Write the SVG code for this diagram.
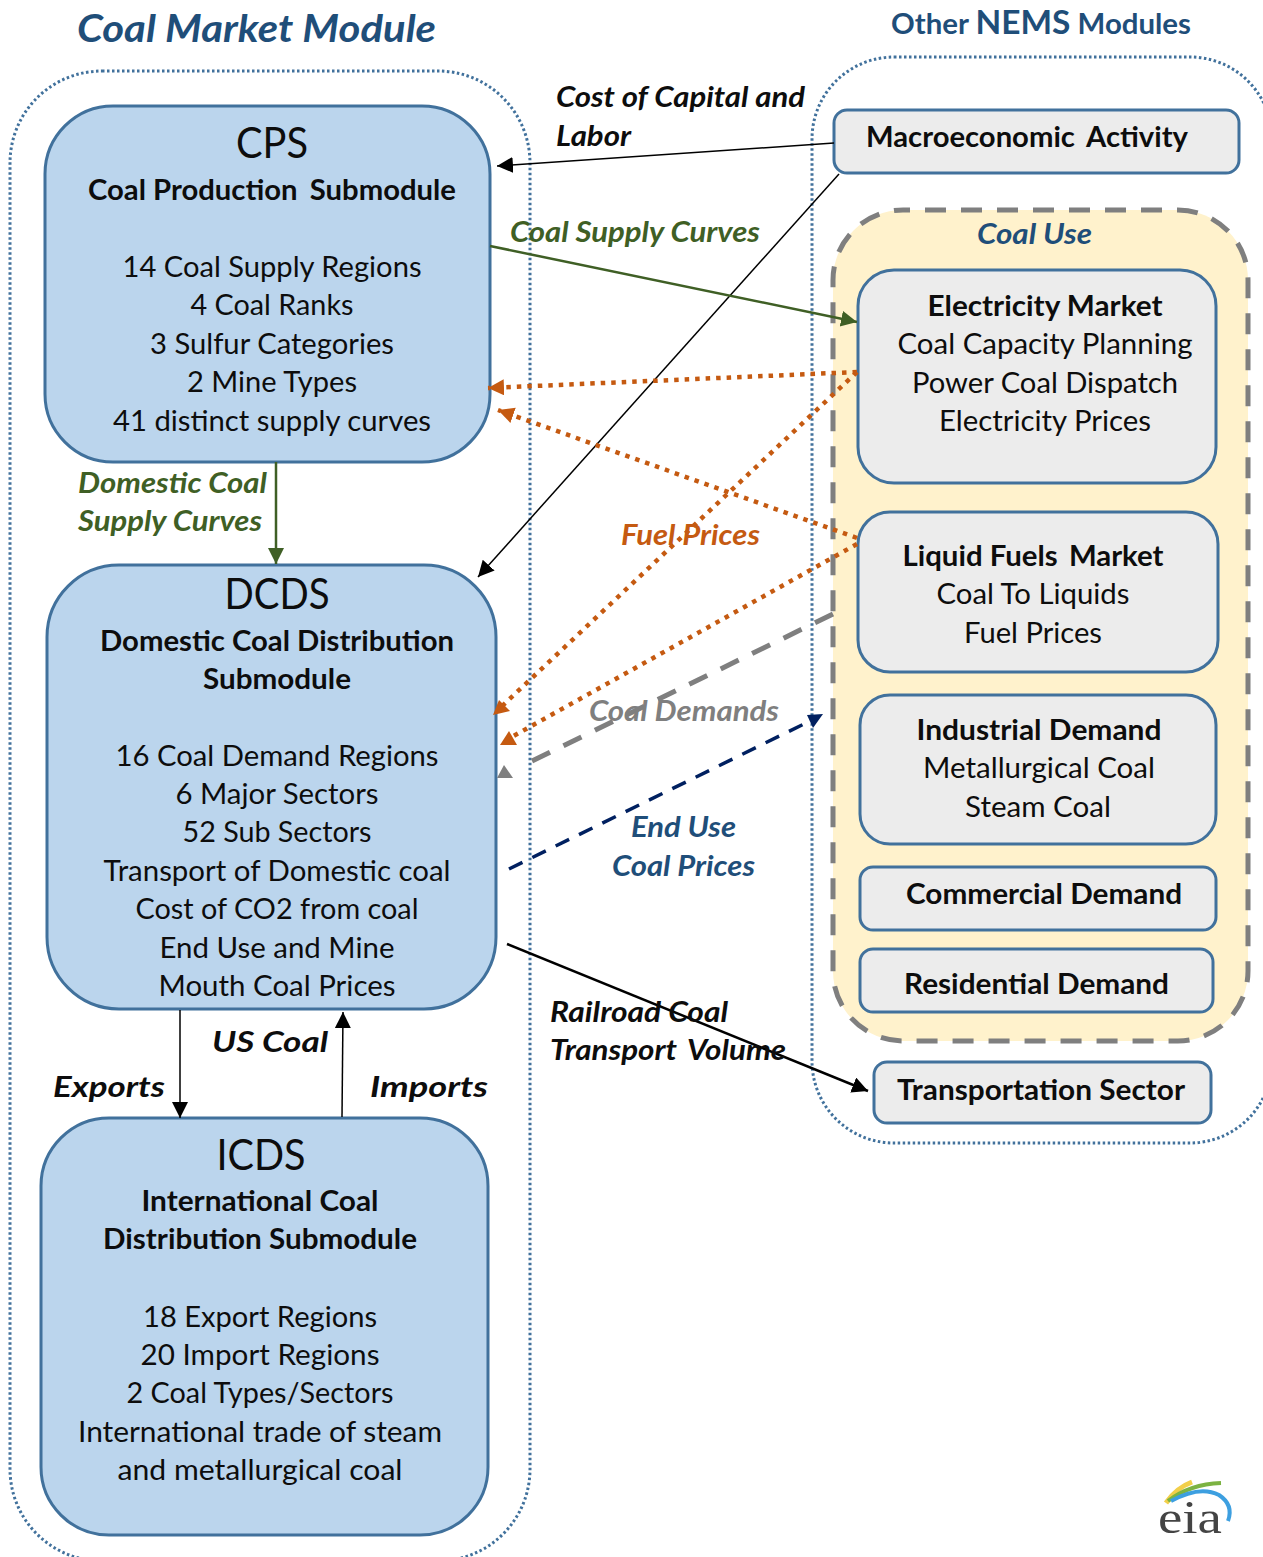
<svg xmlns="http://www.w3.org/2000/svg" width="1263" height="1557" viewBox="0 0 1263 1557">
<style>
text{font-family:"Lato","Liberation Sans",sans-serif;fill:#0d0d0d;text-anchor:middle;font-size:29px}
.b{font-weight:700}
.h{font-size:43px}
.i{font-weight:700;font-style:italic;text-anchor:start}
.blue{fill:#1f4e79}
.green{fill:#3f5f25}
.orange{fill:#c55a11}
.gray{fill:#7f7f7f}
.module{fill:none;stroke:#41719c;stroke-width:3;stroke-dasharray:2.5 2.5}
.sub{fill:#bbd5ed;stroke:#41719c;stroke-width:3}
.box{fill:#ececec;stroke:#41719c;stroke-width:3}
.ln{fill:none}
</style>
<defs>
<marker id="mk" markerUnits="userSpaceOnUse" markerWidth="18" markerHeight="18" refX="16" refY="8" orient="auto"><path d="M0 0L16 8L0 16Z" fill="#000"/></marker>
<marker id="mg" markerUnits="userSpaceOnUse" markerWidth="18" markerHeight="18" refX="16" refY="8" orient="auto"><path d="M0 0L16 8L0 16Z" fill="#3f5f25"/></marker>
<marker id="mo" markerUnits="userSpaceOnUse" markerWidth="18" markerHeight="18" refX="16" refY="8" orient="auto"><path d="M0 0L16 8L0 16Z" fill="#c55a11"/></marker>
</defs>
<rect width="1263" height="1557" fill="#fff"/>

<g id="coal-market-module">
<rect class="module" x="10" y="71" width="520" height="1490" rx="92"/>
<text class="i blue" x="77" y="42" style="font-size:38px" textLength="359" lengthAdjust="spacingAndGlyphs">Coal Market Module</text>
</g>
<g id="other-nems-modules">
<rect class="module" x="812" y="57" width="460" height="1086" rx="82"/>
<text class="b blue" x="1041" y="34" textLength="300" lengthAdjust="spacingAndGlyphs"><tspan>Other </tspan><tspan style="font-size:33px">NEMS</tspan><tspan> Modules</tspan></text>
</g>

<g id="cps">
<rect class="sub" x="45" y="106" width="445" height="356" rx="68"/>
<text class="h" x="272" y="158" textLength="72" lengthAdjust="spacingAndGlyphs">CPS</text>
<text class="b" x="272" y="200" textLength="368" lengthAdjust="spacingAndGlyphs">Coal Production <tspan dx="5">Submodule</tspan></text>
<text x="272" y="277" textLength="299" lengthAdjust="spacingAndGlyphs">14 Coal Supply Regions</text>
<text x="272" y="315" textLength="163" lengthAdjust="spacingAndGlyphs">4 Coal Ranks</text>
<text x="272" y="354" textLength="244" lengthAdjust="spacingAndGlyphs">3 Sulfur Categories</text>
<text x="272" y="392" textLength="170" lengthAdjust="spacingAndGlyphs">2 Mine Types</text>
<text x="272" y="431" textLength="318" lengthAdjust="spacingAndGlyphs">41 distinct supply curves</text>
</g>

<g id="dcds">
<rect class="sub" x="47" y="565" width="449" height="444" rx="72"/>
<text class="h" x="277" y="609" textLength="105" lengthAdjust="spacingAndGlyphs">DCDS</text>
<text class="b" x="277" y="651" textLength="354" lengthAdjust="spacingAndGlyphs">Domestic Coal Distribution</text>
<text class="b" x="277" y="689" textLength="148" lengthAdjust="spacingAndGlyphs">Submodule</text>
<text x="277" y="766" textLength="323" lengthAdjust="spacingAndGlyphs">16 Coal Demand Regions</text>
<text x="277" y="804" textLength="203" lengthAdjust="spacingAndGlyphs">6 Major Sectors</text>
<text x="277" y="842" textLength="189" lengthAdjust="spacingAndGlyphs">52 Sub Sectors</text>
<text x="277" y="881" textLength="347" lengthAdjust="spacingAndGlyphs">Transport of Domestic coal</text>
<text x="277" y="919" textLength="283" lengthAdjust="spacingAndGlyphs">Cost of CO2 from coal</text>
<text x="277" y="958" textLength="235" lengthAdjust="spacingAndGlyphs">End Use and Mine</text>
<text x="277" y="996" textLength="237" lengthAdjust="spacingAndGlyphs">Mouth Coal Prices</text>
</g>

<g id="icds">
<rect class="sub" x="41" y="1118" width="447" height="417" rx="68"/>
<text class="h" x="261" y="1170" textLength="89" lengthAdjust="spacingAndGlyphs">ICDS</text>
<text class="b" x="260" y="1211" textLength="237" lengthAdjust="spacingAndGlyphs">International Coal</text>
<text class="b" x="260" y="1249" textLength="314" lengthAdjust="spacingAndGlyphs">Distribution Submodule</text>
<text x="260" y="1327" textLength="234" lengthAdjust="spacingAndGlyphs">18 Export Regions</text>
<text x="260" y="1365" textLength="239" lengthAdjust="spacingAndGlyphs">20 Import Regions</text>
<text x="260" y="1403" textLength="267" lengthAdjust="spacingAndGlyphs">2 Coal Types/Sectors</text>
<text x="260" y="1442" textLength="364" lengthAdjust="spacingAndGlyphs">International trade of steam</text>
<text x="260" y="1480" textLength="285" lengthAdjust="spacingAndGlyphs">and metallurgical coal</text>
</g>

<g id="macroeconomic-activity">
<rect class="box" x="834" y="110" width="405" height="63" rx="13"/>
<text class="b" x="1027" y="147" textLength="322" lengthAdjust="spacingAndGlyphs">Macroeconomic <tspan dx="5">Activity</tspan></text>
</g>

<g id="coal-use">
<rect x="833" y="210" width="415" height="831" rx="70" fill="#fff2cc" stroke="#7f7f7f" stroke-width="5" stroke-dasharray="21 15" stroke-dashoffset="14"/>
<text class="i blue" x="977" y="244" textLength="115" lengthAdjust="spacingAndGlyphs">Coal Use</text>
</g>

<g id="electricity-market">
<rect class="box" x="858" y="270" width="358" height="213" rx="36"/>
<text class="b" x="1045" y="316" textLength="235" lengthAdjust="spacingAndGlyphs">Electricity Market</text>
<text x="1045" y="354" textLength="295" lengthAdjust="spacingAndGlyphs">Coal Capacity Planning</text>
<text x="1045" y="393" textLength="266" lengthAdjust="spacingAndGlyphs">Power Coal Dispatch</text>
<text x="1045" y="431" textLength="212" lengthAdjust="spacingAndGlyphs">Electricity Prices</text>
</g>
<g id="liquid-fuels-market">
<rect class="box" x="858" y="512" width="360" height="160" rx="32"/>
<text class="b" x="1033" y="566" textLength="261" lengthAdjust="spacingAndGlyphs">Liquid Fuels <tspan dx="4">Market</tspan></text>
<text x="1033" y="604" textLength="193" lengthAdjust="spacingAndGlyphs">Coal To Liquids</text>
<text x="1033" y="643" textLength="138" lengthAdjust="spacingAndGlyphs">Fuel Prices</text>
</g>
<g id="industrial-demand">
<rect class="box" x="860" y="695" width="356" height="149" rx="30"/>
<text class="b" x="1039" y="740" textLength="245" lengthAdjust="spacingAndGlyphs">Industrial Demand</text>
<text x="1039" y="778" textLength="232" lengthAdjust="spacingAndGlyphs">Metallurgical Coal</text>
<text x="1038" y="817" textLength="146" lengthAdjust="spacingAndGlyphs">Steam Coal</text>
</g>
<g id="commercial-demand">
<rect class="box" x="860" y="867" width="356" height="63" rx="13"/>
<text class="b" x="1044" y="904" textLength="276" lengthAdjust="spacingAndGlyphs">Commercial Demand</text>
</g>
<g id="residential-demand">
<rect class="box" x="860" y="949" width="353" height="63" rx="13"/>
<text class="b" x="1036.5" y="994" textLength="265" lengthAdjust="spacingAndGlyphs">Residential Demand</text>
</g>
<g id="transportation-sector">
<rect class="box" x="874" y="1062" width="337" height="61" rx="13"/>
<text class="b" x="1041" y="1100" textLength="288" lengthAdjust="spacingAndGlyphs">Transportation Sector</text>
</g>

<g id="connectors" class="ln">
<line x1="834" y1="143" x2="497" y2="166" stroke="#000" stroke-width="1.5" marker-end="url(#mk)"/>
<line x1="839" y1="174" x2="478" y2="577" stroke="#000" stroke-width="1.5" marker-end="url(#mk)"/>
<line x1="490" y1="246" x2="857" y2="322" stroke="#3f5f25" stroke-width="2.5" marker-end="url(#mg)"/>
<line x1="276" y1="462" x2="276" y2="564" stroke="#3f5f25" stroke-width="2.5" marker-end="url(#mg)"/>
<g stroke="#c55a11" stroke-width="4.5" stroke-dasharray="4.5 6">
<line x1="857" y1="372" x2="488" y2="388" marker-end="url(#mo)"/>
<line x1="857" y1="372" x2="500" y2="708"/>
<line x1="857" y1="538" x2="498" y2="410" marker-end="url(#mo)"/>
<line x1="857" y1="544" x2="510" y2="738"/>
</g>
<path d="M493 715L499 700L510 711Z" fill="#c55a11"/>
<path d="M509 731L500 745L517 745Z" fill="#c55a11"/>
<line x1="833" y1="614" x2="524" y2="765" stroke="#7f7f7f" stroke-width="5" stroke-dasharray="20 15"/>
<path d="M504 765L497 778L513 778Z" fill="#7f7f7f"/>
<line x1="509" y1="869" x2="812" y2="720" stroke="#002060" stroke-width="3.5" stroke-dasharray="15 11"/>
<path d="M823 714L807 715L813 728Z" fill="#002060"/>
<line x1="507" y1="944" x2="868" y2="1091" stroke="#000" stroke-width="2.5" marker-end="url(#mk)"/>
<line x1="180" y1="1010" x2="180" y2="1118" stroke="#000" stroke-width="1.5" marker-end="url(#mk)"/>
<line x1="342" y1="1117" x2="343" y2="1012" stroke="#000" stroke-width="1.5" marker-end="url(#mk)"/>
</g>

<g id="labels">
<text class="i" x="556" y="107" textLength="249" lengthAdjust="spacingAndGlyphs">Cost of Capital and</text>
<text class="i" x="556" y="146" textLength="75" lengthAdjust="spacingAndGlyphs">Labor</text>
<text class="i green" x="510" y="242" textLength="250" lengthAdjust="spacingAndGlyphs">Coal Supply Curves</text>
<text class="i green" x="78" y="493" textLength="189" lengthAdjust="spacingAndGlyphs">Domestic Coal</text>
<text class="i green" x="78" y="531" textLength="184" lengthAdjust="spacingAndGlyphs">Supply Curves</text>
<text class="i orange" x="621" y="545" textLength="139" lengthAdjust="spacingAndGlyphs">Fuel Prices</text>
<text class="i gray" x="589" y="721" textLength="190" lengthAdjust="spacingAndGlyphs">Coal Demands</text>
<text class="i blue" x="631" y="837" textLength="105" lengthAdjust="spacingAndGlyphs">End Use</text>
<text class="i blue" x="612" y="876" textLength="143" lengthAdjust="spacingAndGlyphs">Coal Prices</text>
<text class="i" x="550" y="1022" textLength="178" lengthAdjust="spacingAndGlyphs">Railroad Coal</text>
<text class="i" x="550" y="1060" textLength="236" lengthAdjust="spacingAndGlyphs">Transport <tspan dx="4">Volume</tspan></text>
<text class="i" x="212" y="1052" textLength="116" lengthAdjust="spacingAndGlyphs">US Coal</text>
<text class="i" x="53" y="1097" textLength="112" lengthAdjust="spacingAndGlyphs">Exports</text>
<text class="i" x="370" y="1097" textLength="118" lengthAdjust="spacingAndGlyphs">Imports</text>
</g>

<g id="eia-logo">
<path d="M1166 1503Q1176 1488 1192 1482" fill="none" stroke="#f2cf4a" stroke-width="5"/>
<path d="M1168 1501Q1190 1484 1221 1483" fill="none" stroke="#7cb342" stroke-width="4"/>
<path d="M1171 1501Q1200 1485 1219 1495Q1234 1505 1228 1521" fill="none" stroke="#3d9fe0" stroke-width="4"/>
<text x="1190" y="1533" style="font-family:'Liberation Serif',serif;font-size:46px;fill:#444" textLength="64" lengthAdjust="spacingAndGlyphs">eia</text>
</g>
</svg>
